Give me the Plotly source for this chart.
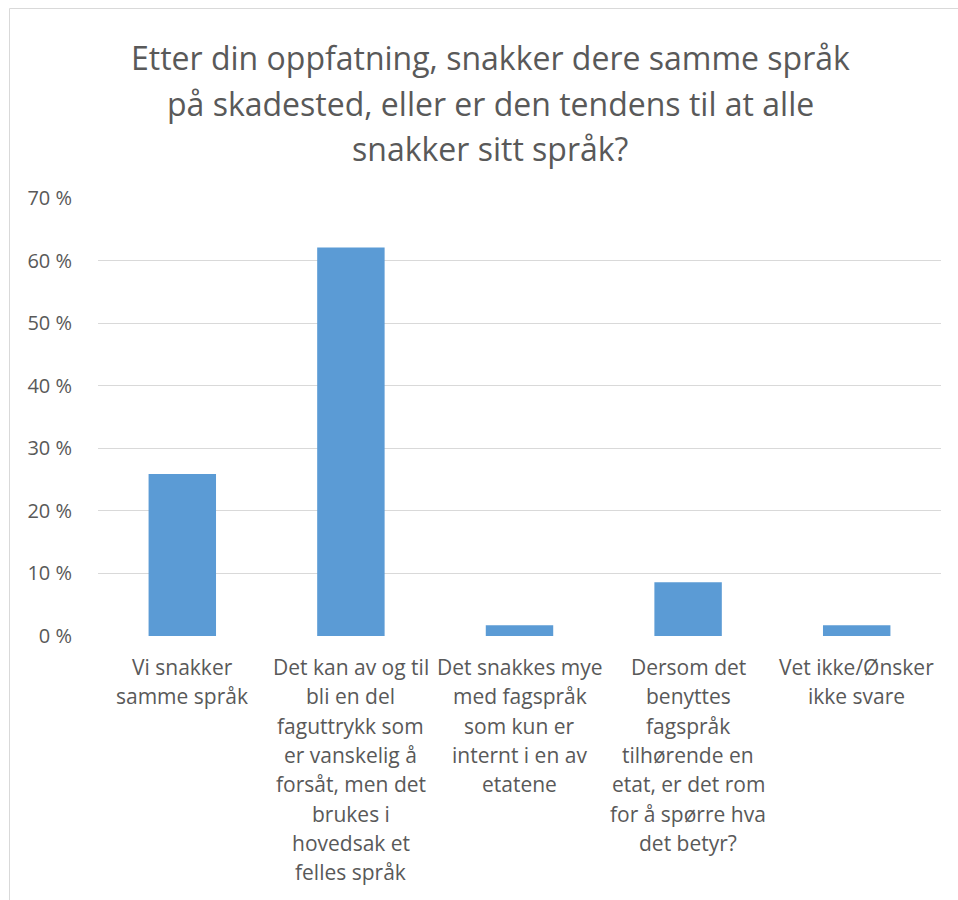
import plotly.graph_objects as go

categories = [
    "Vi snakker<br>samme språk",
    "Det kan av og til<br>bli en del<br>faguttrykk som<br>er vanskelig å<br>forsåt, men det<br>brukes i<br>hovedsak et<br>felles språk",
    "Det snakkes mye<br>med fagspråk<br>som kun er<br>internt i en av<br>etatene",
    "Dersom det<br>benyttes<br>fagspråk<br>tilhørende en<br>etat, er det rom<br>for å spørre hva<br>det betyr?",
    "Vet ikke/Ønsker<br>ikke svare",
]
values = [25.9, 62.1, 1.7, 8.6, 1.7]
tick_vals = [0, 10, 20, 30, 40, 50, 60, 70]
tick_text = ["0 %", "10 %", "20 %", "30 %", "40 %", "50 %", "60 %", "70 %"]
title_lines = [
    "Etter din oppfatning, snakker dere samme språk",
    "på skadested, eller er den tendens til at alle",
    "snakker sitt språk?",
]

W, H = 958, 900
L, R, T, B = 98, 17, 198, 264
plot_w = W - L - R
plot_h = H - T - B

def px_to_py(py):
    return (H - B - py) / plot_h

def px_to_px(px):
    return (px - L) / plot_w

FONT = "Open Sans"
TXT = "#595959"

fig = go.Figure(go.Bar(
    x=list(range(len(categories))), y=values,
    marker_color="#5b9bd5", marker_line_width=0, width=0.4,
))

annotations = []
for i, t in enumerate(title_lines):
    annotations.append(dict(
        text=t, xref="paper", yref="paper", x=px_to_px(490), y=px_to_py(58 + 45 * i),
        xanchor="center", yanchor="middle", showarrow=False,
        font=dict(family=FONT, size=32, color=TXT),
    ))
for ci, c in enumerate(categories):
    for li, line in enumerate(c.split("<br>")):
        annotations.append(dict(
            text=line, xref="x", yref="paper", x=ci, y=px_to_py(667 + 29.3 * li),
            xanchor="center", yanchor="middle", showarrow=False,
            font=dict(family=FONT, size=21, color=TXT),
        ))

fig.update_layout(
    width=W, height=H,
    margin=dict(l=L, r=R, t=T, b=B),
    paper_bgcolor="white", plot_bgcolor="white",
    showlegend=False,
    annotations=annotations,
    xaxis=dict(range=[-0.5, len(categories) - 0.5], showticklabels=False,
               showgrid=False, zeroline=False, showline=False, fixedrange=True),
    yaxis=dict(range=[0, 70], tickvals=tick_vals, ticktext=tick_text,
               showgrid=True, gridcolor="#d9d9d9", gridwidth=1,
               zeroline=False, showline=False, ticks="",
               ticklabelstandoff=25,
               tickfont=dict(family=FONT, size=20, color=TXT)),
    shapes=[dict(type="rect", xref="paper", yref="paper",
                 x0=px_to_px(9.5), x1=px_to_px(W + 20),
                 y0=px_to_py(H + 20), y1=px_to_py(8.5),
                 line=dict(color="#d9d9d9", width=1), fillcolor="rgba(0,0,0,0)",
                 layer="below")],
)

fig.write_html(
    "out.html",
    config={"displayModeBar": False},
    post_script="document.body.style.margin='0';document.body.style.overflow='hidden';",
)
